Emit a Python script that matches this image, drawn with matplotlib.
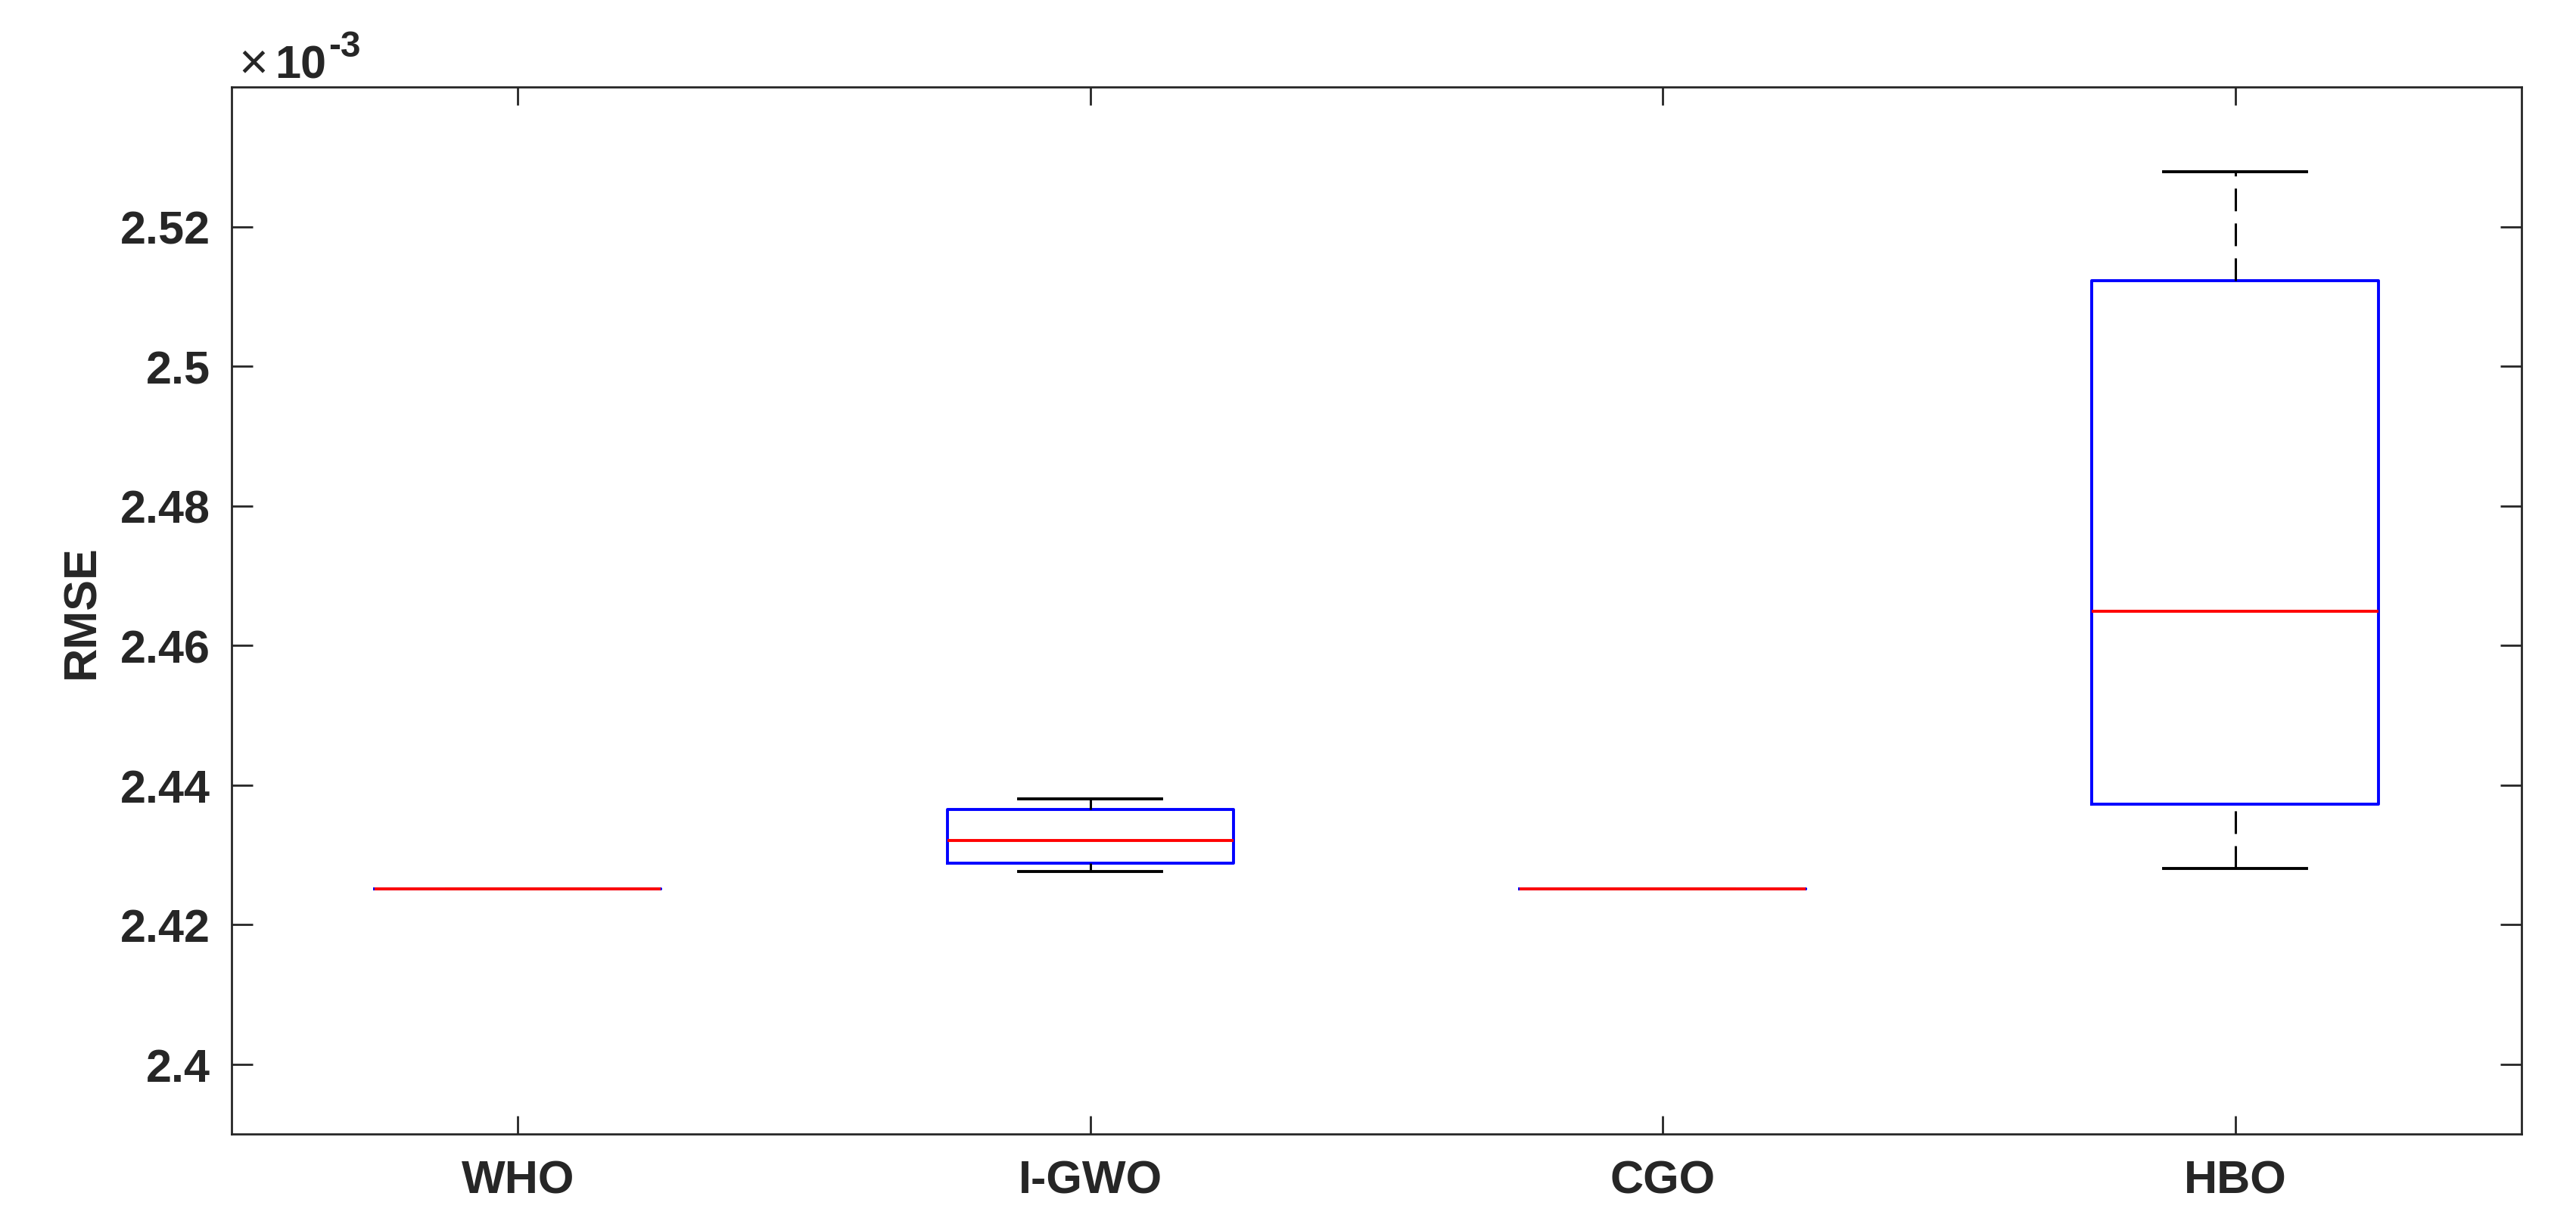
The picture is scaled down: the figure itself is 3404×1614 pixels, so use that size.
import matplotlib
matplotlib.use("Agg")
import matplotlib.pyplot as plt
from matplotlib.ticker import FixedLocator, FuncFormatter
from matplotlib.transforms import offset_copy

# ---- data (RMSE) ----
algorithms = ["WHO", "I-GWO", "CGO", "HBO"]
whisker_low = [2.42507e-3, 2.42766e-3, 2.42507e-3, 2.42809e-3]
q1_values   = [2.42507e-3, 2.42877e-3, 2.42507e-3, 2.43731e-3]
medians     = [2.42507e-3, 2.43201e-3, 2.42507e-3, 2.46494e-3]
q3_values   = [2.42507e-3, 2.43655e-3, 2.42507e-3, 2.51230e-3]
whisker_high = [2.42507e-3, 2.43807e-3, 2.42507e-3, 2.52793e-3]
ytick_values = [2.40e-3, 2.42e-3, 2.44e-3, 2.46e-3, 2.48e-3, 2.50e-3, 2.52e-3]

plt.rcParams["font.family"] = ["Liberation Sans", "DejaVu Sans"]
plt.rcParams["font.weight"] = "bold"

TXT = "#262626"
FS = 22
DPI = 200

fig = plt.figure(figsize=(17.02, 8.075), dpi=DPI)
ax = fig.add_axes([0.0899, 0.0712, 0.9788 - 0.0899, 0.928 - 0.0712])

stats = []
for name, lo, q1, med, q3, hi in zip(algorithms, whisker_low, q1_values,
                                     medians, q3_values, whisker_high):
    stats.append(dict(label=name, whislo=lo, q1=q1, med=med, q3=q3,
                      whishi=hi, fliers=[]))

wlw = 1.1
parts = ax.bxp(stats, positions=range(1, len(algorithms) + 1), widths=0.5,
               showfliers=False, manage_ticks=False,
               boxprops=dict(color="#0000FF", linewidth=1.4),
               medianprops=dict(color="#FF0000", linewidth=1.4, zorder=4),
               whiskerprops=dict(color="black", linewidth=wlw,
                                 linestyle=(0, (10.8 / wlw, 5.8 / wlw))),
               capprops=dict(color="black", linewidth=1.4))
# MATLAB draws the lower whisker from its end towards the box
for i, w in enumerate(parts["whiskers"]):
    if i % 2 == 0:
        w.set_ydata(list(w.get_ydata())[::-1])

ax.set_xlim(0.5, 4.5)
ax.set_ylim(2.39e-3, 2.54e-3)
ax.set_xticks(range(1, len(algorithms) + 1))
ax.set_xticklabels(algorithms)
ax.yaxis.set_major_locator(FixedLocator(ytick_values))
ax.yaxis.set_major_formatter(FuncFormatter(lambda v, p: f"{v * 1e3:g}"))

for s in ax.spines.values():
    s.set_color(TXT)
    s.set_linewidth(1.0)

ax.tick_params(axis="both", direction="in", top=True, right=True,
               colors=TXT, width=1.0, labelsize=FS)
ax.tick_params(axis="x", length=8.6, pad=12)
ax.tick_params(axis="y", length=10, pad=10)
for lab in ax.get_xticklabels() + ax.get_yticklabels():
    lab.set_fontweight("bold")

ax.set_ylabel("RMSE", fontsize=FS, fontweight="bold", color=TXT, labelpad=8)

# exponent label "×10^-3" (MATLAB style), built from real text pieces
t_times = ax.annotate("×", xy=(0, 1), xycoords="axes fraction",
                      xytext=(3.5, 4.7), textcoords="offset points",
                      ha="left", va="baseline", fontsize=FS + 2,
                      fontweight="normal", color=TXT)
fig.canvas.draw()
r = fig.canvas.get_renderer()
bb = t_times.get_window_extent(r)
t_ten = fig.text(bb.x1 / fig.bbox.width + 0.0025, 0, "10",
                 transform=fig.transFigure, fontsize=FS, fontweight="bold",
                 color=TXT, ha="left", va="baseline")
# put baseline of "10" on the baseline of "×"
base_y = ax.transAxes.transform((0, 1))[1] + 4.7 * DPI / 72
t_ten.set_y(base_y / fig.bbox.height)
fig.canvas.draw()
bb2 = t_ten.get_window_extent(r)
fig.text(bb2.x1 / fig.bbox.width + 0.001,
         (base_y + 10.0 * DPI / 72) / fig.bbox.height, "-3",
         fontsize=FS * 0.78, fontweight="bold", color=TXT,
         ha="left", va="baseline")

fig.savefig("out.png", dpi=DPI, facecolor="white")
